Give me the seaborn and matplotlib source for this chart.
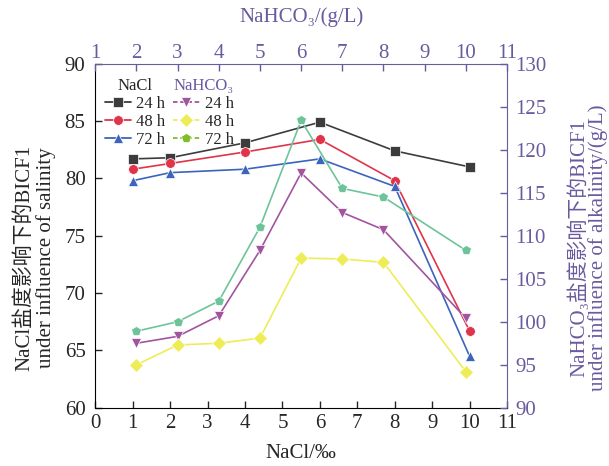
import pandas as pd
import seaborn as sns
import matplotlib.pyplot as plt
from matplotlib.lines import Line2D

# NaCl series (bottom x in per mille, left y)
nacl_x = [1, 2, 4, 6, 8, 10]
nacl_24h = [81.7, 81.8, 83.1, 84.9, 82.4, 81.0]
nacl_48h = [80.8, 81.3, 82.3, 83.4, 79.8, 66.7]
nacl_72h = [79.8, 80.5, 80.8, 81.7, 79.3, 64.5]

# NaHCO3 series (top x in g/L, right y)
nahco3_x = [2, 3, 4, 5, 6, 7, 8, 10]
nahco3_24h = [97.5, 98.3, 100.7, 108.3, 117.3, 112.7, 110.7, 100.4]
nahco3_48h = [95.0, 97.3, 97.5, 98.1, 107.4, 107.3, 106.9, 94.2]
nahco3_72h = [98.9, 100.0, 102.4, 111.0, 123.4, 115.5, 114.5, 108.3]

times = ["24 h", "48 h", "72 h"]
nacl_colors = ["#3c3c3c", "#e0344a", "#3c64bc"]
nahco3_colors = ["#a2559e", "#eded58", "#6ec49a"]
nahco3_legend_colors = ["#a2559e", "#eded58", "#80bd2a"]
nacl_markers = ["s", "o", "^"]
nahco3_markers = ["v", "D", "p"]
purple = "#6a5a9e"

sns.set_style("ticks")
plt.rcParams["font.family"] = ["Liberation Serif", "Noto Sans CJK SC", "DejaVu Serif"]

nacl_df = pd.DataFrame({
    "x": nacl_x * 3,
    "y": nacl_24h + nacl_48h + nacl_72h,
    "time": [t for t in times for _ in nacl_x],
})
nahco3_df = pd.DataFrame({
    "x": nahco3_x * 3,
    "y": nahco3_24h + nahco3_48h + nahco3_72h,
    "time": [t for t in times for _ in nahco3_x],
})

fig = plt.figure(figsize=(6.09, 4.66), dpi=100)
pos = [0.1565, 0.125, 0.676, 0.7383]
ax = fig.add_axes(pos)
ax2 = fig.add_axes(pos, frameon=False)

sns.lineplot(data=nacl_df, x="x", y="y", hue="time", style="time",
             markers=nacl_markers, dashes=False, palette=nacl_colors,
             markersize=7, linewidth=1.2, markeredgewidth=0.5,
             legend=False, ax=ax)
sns.lineplot(data=nahco3_df, x="x", y="y", hue="time", style="time",
             markers=nahco3_markers, dashes=False, palette=nahco3_colors,
             markersize=7, linewidth=1.2, markeredgewidth=0.5,
             legend=False, ax=ax2)

ax.set_xlim(0, 11)
ax.set_ylim(60, 90)
ax.set_xticks(range(0, 12))
ax.set_yticks(range(60, 91, 5))
ax.tick_params(direction="in", length=5, width=1, labelsize=15)
ax.tick_params(axis="x", pad=4.5)
ax.tick_params(axis="y", pad=7)
for side in ["left", "bottom"]:
    ax.spines[side].set_color("black")
for side in ["top", "right"]:
    ax.spines[side].set_color(purple)
ax.set_xlabel("NaCl/‰", fontsize=15, labelpad=8)
ax.set_ylabel("NaCl盐度影响下的BICF1\nunder influence of salinity",
              fontsize=15, va="center", ha="center", linespacing=1.15)
ax.yaxis.set_label_coords(-0.146, 0.435)

ax2.set_xlim(1, 11)
ax2.set_ylim(90, 130)
ax2.set_xticks(range(1, 12))
ax2.set_yticks(range(90, 131, 5))
ax2.xaxis.tick_top()
ax2.yaxis.tick_right()
ax2.xaxis.set_label_position("top")
ax2.yaxis.set_label_position("right")
ax2.tick_params(direction="in", length=5, width=1, labelsize=15,
                color=purple, labelcolor=purple)
ax2.tick_params(axis="x", pad=0.5)
ax2.tick_params(axis="y", pad=6)
ax2.set_xlabel("NaHCO₃/(g/L)", fontsize=15, color=purple, labelpad=16)
ax2.set_ylabel("NaHCO₃盐度影响下的BICF1\nunder influence of alkalinity/(g/L)",
               fontsize=15, color=purple, va="center", ha="center",
               rotation=90, linespacing=0.95)
ax2.yaxis.set_label_coords(1.197, 0.464)

nacl_handles = [Line2D([], [], color=c, marker=m, markersize=7, lw=1.3,
                       markeredgecolor="white", markeredgewidth=0.5, label=t)
                for c, m, t in zip(nacl_colors, nacl_markers, times)]
nahco3_handles = [Line2D([], [], color=c, marker=m, markersize=7, lw=1.3,
                         linestyle=(0, (2.5, 1.5)), markeredgecolor="white",
                         markeredgewidth=0.5, label=t)
                  for c, m, t in zip(nahco3_legend_colors, nahco3_markers, times)]

leg_kw = dict(loc="upper left", bbox_transform=fig.transFigure, frameon=False,
              fontsize=12, title_fontsize=12, handlelength=1.6,
              handletextpad=0.3, labelspacing=0.12, borderpad=0,
              borderaxespad=0)
leg1 = ax2.legend(handles=nacl_handles, title="NaCl",
                  bbox_to_anchor=(0.172, 0.833), **leg_kw)
ax2.add_artist(leg1)
leg2 = ax2.legend(handles=nahco3_handles, title="NaHCO₃",
                  bbox_to_anchor=(0.284, 0.833), **leg_kw)
leg2.get_title().set_color(purple)

fig.savefig("out.png", dpi=100)
